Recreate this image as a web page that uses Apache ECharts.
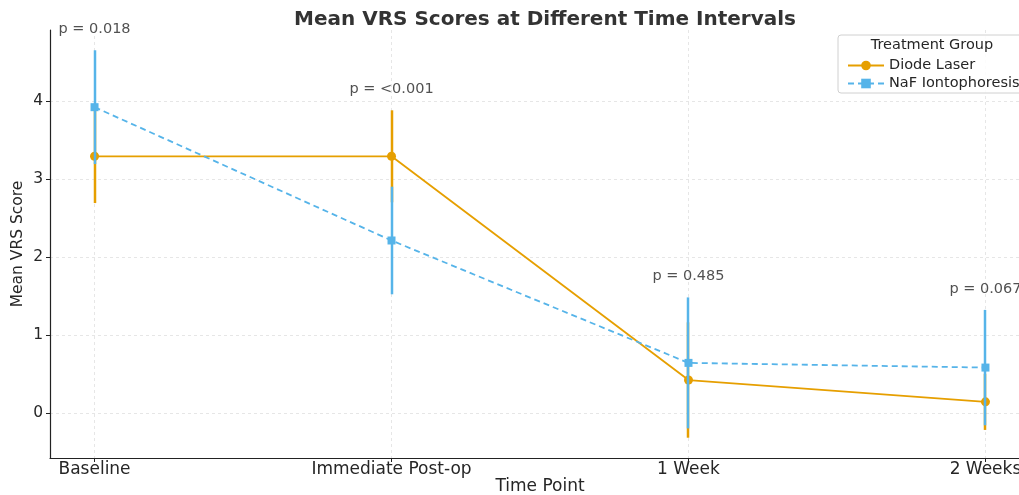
<!DOCTYPE html>
<html>
<head>
<meta charset="utf-8">
<script src="https://cdn.jsdelivr.net/npm/echarts@6/dist/echarts.min.js"></script>
<style>
html,body{margin:0;padding:0;background:#fff;}
#chart{width:1019px;height:495px;}
</style>
</head>
<body>
<div id="chart"></div>
<script>
var categories = ['Baseline', 'Immediate Post-op', '1 Week', '2 Weeks'];
var diodeMean = [3.29, 3.29, 0.42, 0.14];
var diodeSD   = [0.60, 0.59, 0.74, 0.36];
var nafMean   = [3.92, 2.21, 0.64, 0.58];
var nafSD     = [0.73, 0.69, 0.84, 0.74];
var pLabels   = ['p = 0.018', 'p = <0.001', 'p = 0.485', 'p = 0.067'];
var yTicks    = [0, 1, 2, 3, 4];

var ORANGE = '#E69F00', BLUE = '#56B4E9';
var FONT = 'DejaVu Sans';
var TXT = '#262626';

function pts(means){ return means.map(function(m,i){ return [i, m]; }); }
function errs(means, sds){ return means.map(function(m,i){ return [i, m - sds[i], m + sds[i]]; }); }
function errRender(color){
  return function(params, api){
    var a = api.coord([api.value(0), api.value(1)]);
    var b = api.coord([api.value(0), api.value(2)]);
    var x = Math.round(a[0]);
    return {type:'line', shape:{x1:x, y1:a[1], x2:x, y2:b[1]},
            style:{stroke:color, lineWidth:2.5}};
  };
}
var pData = categories.map(function(c,i){
  var top = Math.max(diodeMean[i] + diodeSD[i], nafMean[i] + nafSD[i]);
  return {value:[i, top + 0.17], label:{formatter: pLabels[i]}};
});

var chart = echarts.init(document.getElementById('chart'), null, {renderer:'canvas'});
chart.setOption({
  animation:false,
  backgroundColor:'#fff',
  title:{text:'Mean VRS Scores at Different Time Intervals', left:540, textAlign:'center', top:5,
    textStyle:{fontFamily:FONT, fontSize:20, fontWeight:'bold', color:'#333'}},
  grid:{left:50, top:30, width:980, height:428, containLabel:false, outerBoundsMode:'none'},
  xAxis:{type:'value', min:-0.15, max:3.15, name:'Time Point', nameLocation:'middle', nameGap:20,
    nameMoveOverlap:false,
    nameTextStyle:{fontFamily:FONT, fontSize:17, color:TXT},
    axisLine:{show:true, onZero:false, lineStyle:{color:'#222', width:1.2}},
    axisTick:{show:true, customValues:[0,1,2,3], length:4, lineStyle:{color:'#222'}},
    axisLabel:{customValues:[0,1,2,3], fontFamily:FONT, fontSize:17, color:TXT, margin:3,
      formatter:function(v){ return categories[Math.round(v)]; }},
    splitLine:{show:true, lineStyle:{color:'#e6e6e6', type:[3,3]}}},
  yAxis:{type:'value', min:-0.58, max:4.91, name:'Mean VRS Score', nameLocation:'middle', nameGap:24,
    nameMoveOverlap:false,
    nameTextStyle:{fontFamily:FONT, fontSize:15.5, color:TXT},
    axisLine:{show:true, onZero:false, lineStyle:{color:'#222', width:1.2}},
    axisTick:{show:true, customValues:yTicks, length:4, lineStyle:{color:'#222'}},
    axisLabel:{customValues:yTicks, fontFamily:FONT, fontSize:15.5, color:TXT, margin:7},
    splitLine:{show:true, lineStyle:{color:'#e6e6e6', type:[3,3]}}},
  legend:{left:842, top:53, z:120, orient:'vertical', itemGap:3, itemWidth:36, itemHeight:12,
    textStyle:{fontFamily:FONT, fontSize:14.5, color:TXT},
    data:['Diode Laser','NaF Iontophoresis']},
  graphic:[
    {type:'rect', shape:{x:838, y:35, width:200, height:58, r:3}, z:100,
     style:{fill:'rgba(255,255,255,0.85)', stroke:'#d0d0d0', lineWidth:1}},
    {type:'text', x:932, y:38, z:101, style:{text:'Treatment Group', fontFamily:FONT, fontSize:14.5, fill:TXT, textAlign:'center'}}
  ],
  series:[
    {name:'Diode Laser err', type:'custom', z:2, data:errs(diodeMean, diodeSD), renderItem:errRender(ORANGE), silent:true},
    {name:'Diode Laser', type:'line', z:3, data:pts(diodeMean), color:ORANGE, symbol:'circle', symbolSize:9,
     lineStyle:{width:1.8, color:ORANGE}, itemStyle:{color:ORANGE}},
    {name:'NaF err', type:'custom', z:4, data:errs(nafMean, nafSD), renderItem:errRender(BLUE), silent:true},
    {name:'NaF Iontophoresis', type:'line', z:5, data:pts(nafMean), color:BLUE, symbol:'rect', symbolSize:8,
     lineStyle:{width:1.8, color:BLUE, type:[6,4]}, itemStyle:{color:BLUE}},
    {name:'p', type:'scatter', z:6, data:pData, symbolSize:0, silent:true,
     label:{show:true, position:'top', distance:0, fontFamily:FONT, fontSize:14.5, color:TXT}}
  ]
});
</script>
</body>
</html>
